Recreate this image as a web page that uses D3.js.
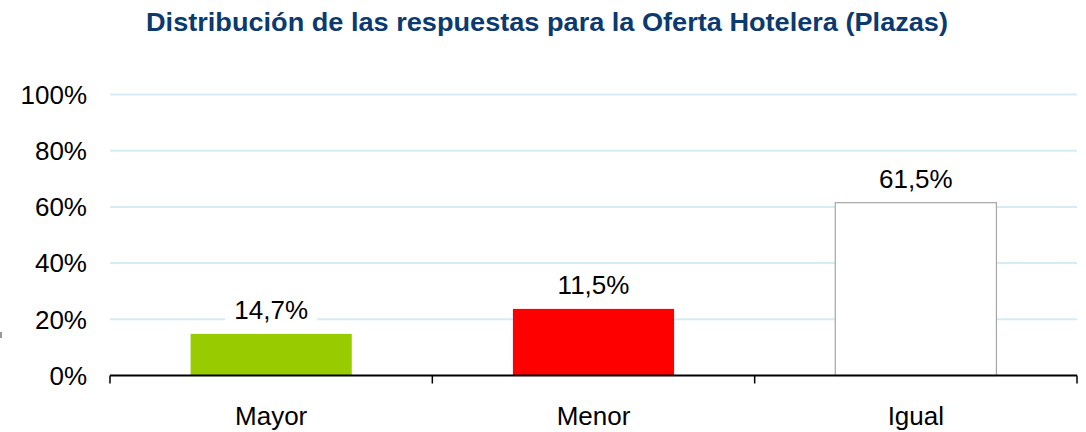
<!DOCTYPE html>
<html>
<head>
<meta charset="utf-8">
<script src="https://cdn.jsdelivr.net/npm/d3@7"></script>
<style>
  body { margin: 0; background: #fff; }
  svg { font-family: "Liberation Sans", Arial, sans-serif; }
</style>
</head>
<body>
<div id="chart"></div>
<script>
// categories and values
const categories = ["Mayor", "Menor", "Igual"];
const barValues = [14.8, 23.7, 61.5];          // bar heights (%)
const barLabels = ["14,7%", "11,5%", "61,5%"]; // labels as printed
const barColors = ["#99cc00", "#ff0000", "#ffffff"];
const yTicks = [0, 20, 40, 60, 80, 100];

const W = 1086, H = 432;
const margin = {top: 94.5, right: 9, bottom: 56.5, left: 110};

let svg = d3.select("#chart")
    .append("svg")
    .attr("width", W)
    .attr("height", H);

// title
svg.append("text")
    .attr("x", 547)
    .attr("y", 31)
    .attr("text-anchor", "middle")
    .style("font-size", "26px")
    .style("font-weight", "bold")
    .attr("fill", "#0b3a6e")
    .attr("textLength", 802)
    .attr("lengthAdjust", "spacingAndGlyphs")
    .text("Distribución de las respuestas para la Oferta Hotelera (Plazas)");

// small grey mark at the left edge
svg.append("rect")
    .attr("x", 0)
    .attr("y", 332)
    .attr("width", 2)
    .attr("height", 6)
    .attr("fill", "#999");

let g = svg.append("g")
    .attr("transform", `translate(${margin.left},${margin.top})`);

const iw = W - margin.left - margin.right;
const ih = H - margin.top - margin.bottom;

let x = d3.scaleBand()
    .domain(categories)
    .range([0, iw])
    .paddingInner(0.5)
    .paddingOuter(0.25);

let y = d3.scaleLinear()
    .domain([0, 100])
    .range([ih, 0]);

// gridlines
g.selectAll("line.grid")
    .data(yTicks.filter(d => d > 0))
    .enter()
    .append("line")
    .attr("class", "grid")
    .attr("x1", 0)
    .attr("x2", iw)
    .attr("y1", d => y(d))
    .attr("y2", d => y(d))
    .attr("stroke", "#d6ecf5")
    .attr("stroke-width", 2);

// y tick labels
g.selectAll("text.ytick")
    .data(yTicks)
    .enter()
    .append("text")
    .attr("class", "ytick")
    .attr("x", -23)
    .attr("y", d => y(d))
    .attr("dy", "0.36em")
    .attr("text-anchor", "end")
    .style("font-size", "26px")
    .attr("fill", "#000")
    .text(d => d + "%");

// bars
g.selectAll("rect.bar")
    .data(categories)
    .enter()
    .append("rect")
    .attr("class", "bar")
    .attr("x", d => x(d))
    .attr("y", (d, i) => y(barValues[i]))
    .attr("width", x.bandwidth())
    .attr("height", (d, i) => ih - y(barValues[i]))
    .attr("fill", (d, i) => barColors[i])
    .attr("stroke", (d, i) => i == 2 ? "#a6a6a6" : "none")
    .attr("stroke-width", 1.2);

// value labels with white backing
let labs = g.selectAll("g.vlab")
    .data(categories)
    .enter()
    .append("g")
    .attr("class", "vlab")
    .attr("transform", (d, i) => `translate(${x(d) + x.bandwidth() / 2},${y(barValues[i]) - 15})`);

labs.append("rect")
    .attr("x", -46)
    .attr("y", -25)
    .attr("width", 92)
    .attr("height", 31)
    .attr("fill", "#fff");

labs.append("text")
    .attr("text-anchor", "middle")
    .style("font-size", "26px")
    .attr("fill", "#000")
    .text((d, i) => barLabels[i]);

// x axis with ticks between categories
let bounds = [0].concat(categories.map(d => x(d) + x.bandwidth() + x.step() * 0.25));
g.append("line")
    .attr("x1", 0)
    .attr("x2", iw)
    .attr("y1", ih)
    .attr("y2", ih)
    .attr("stroke", "#000")
    .attr("stroke-width", 2);

g.selectAll("line.xtick")
    .data(bounds)
    .enter()
    .append("line")
    .attr("class", "xtick")
    .attr("x1", d => d)
    .attr("x2", d => d)
    .attr("y1", ih)
    .attr("y2", ih + 8)
    .attr("stroke", "#000")
    .attr("stroke-width", 1.5);

g.selectAll("text.xlab")
    .data(categories)
    .enter()
    .append("text")
    .attr("class", "xlab")
    .attr("x", d => x(d) + x.bandwidth() / 2)
    .attr("y", ih + 49)
    .attr("text-anchor", "middle")
    .style("font-size", "26px")
    .attr("fill", "#000")
    .text(d => d);
</script>
</body>
</html>
